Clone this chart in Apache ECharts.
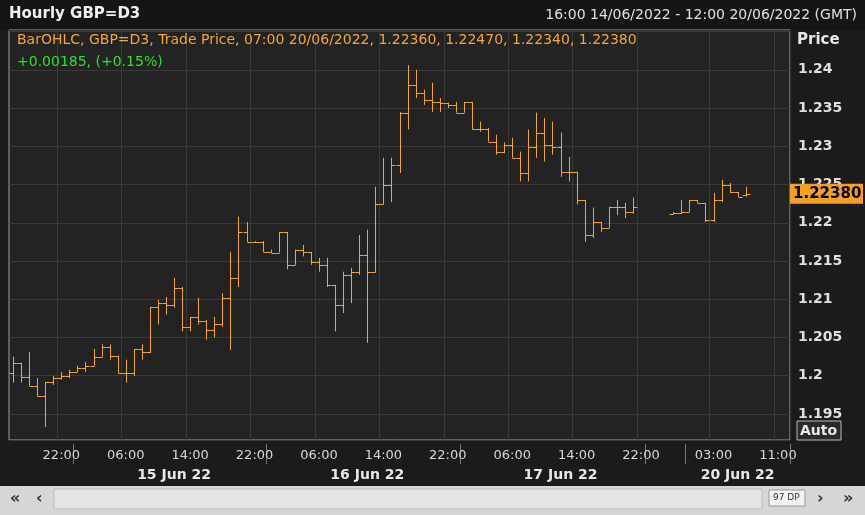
<!DOCTYPE html>
<html><head><meta charset="utf-8">
<script src="https://cdn.jsdelivr.net/npm/echarts@6/dist/echarts.min.js"></script>
<style>html,body{margin:0;padding:0;background:#1b1b1b}#c{width:865px;height:515px}</style>
</head><body><div id="c"></div>
<script>
const opens  = [1.2004,1.2017,1.1999,1.1987,1.1973,1.1992,1.1997,1.2000,1.2005,1.2010,1.2013,1.2025,1.2037,1.2026,1.2004,1.2004,1.2035,1.2031,1.2090,1.2095,1.2093,1.2115,1.2064,1.2077,1.2071,1.2060,1.2067,1.2102,1.2128,1.2188,1.2175,1.2175,1.2162,1.2161,1.2188,1.2145,1.2165,1.2162,1.2149,1.2145,1.2119,1.2093,1.2132,1.2135,1.2158,1.2135,1.2224,1.2250,1.2276,1.2344,1.2380,1.2370,1.2361,1.2358,1.2357,1.2354,1.2344,1.2358,1.2322,1.2322,1.2306,1.2293,1.2302,1.2285,1.2265,1.2299,1.2318,1.2302,1.2299,1.2267,1.2267,1.2230,1.2184,1.2201,1.2193,1.2221,1.2221,1.2214,null,null,null,null,1.2212,1.2213,1.2214,1.2230,1.2226,1.2204,1.2230,1.2250,1.2240,1.2236,null,null,null,null,null];
const closes = [1.2017,1.1999,1.1987,1.1973,1.1992,1.1997,1.2000,1.2005,1.2010,1.2013,1.2025,1.2037,1.2026,1.2004,1.2004,1.2035,1.2031,1.2090,1.2095,1.2093,1.2115,1.2064,1.2077,1.2071,1.2060,1.2067,1.2102,1.2128,1.2188,1.2175,1.2175,1.2162,1.2161,1.2188,1.2145,1.2165,1.2162,1.2149,1.2145,1.2119,1.2093,1.2132,1.2135,1.2158,1.2135,1.2224,1.2250,1.2276,1.2344,1.2380,1.2370,1.2361,1.2358,1.2357,1.2354,1.2344,1.2358,1.2322,1.2322,1.2306,1.2293,1.2302,1.2285,1.2265,1.2299,1.2318,1.2302,1.2299,1.2267,1.2267,1.2230,1.2184,1.2201,1.2193,1.2221,1.2221,1.2214,1.2221,null,null,null,null,1.2213,1.2214,1.2230,1.2226,1.2204,1.2230,1.2250,1.2240,1.2234,1.2238,null,null,null,null,null];
const lows   = [1.1991,1.1991,1.1987,1.1973,1.1933,1.1988,1.1995,1.1997,1.2005,1.2005,1.2013,1.2025,1.2021,1.2003,1.1991,1.2000,1.2021,1.2030,1.2067,1.2080,1.2089,1.2058,1.2058,1.2067,1.2047,1.2050,1.2064,1.2034,1.2116,1.2175,1.2174,1.2162,1.2161,1.2161,1.2139,1.2145,1.2156,1.2145,1.2136,1.2116,1.2058,1.2082,1.2095,1.2132,1.2043,1.2135,1.2224,1.2227,1.2265,1.2322,1.2363,1.2354,1.2345,1.2345,1.2350,1.2344,1.2344,1.2322,1.2319,1.2306,1.2289,1.2291,1.2285,1.2254,1.2254,1.2285,1.2280,1.2289,1.2260,1.2254,1.2224,1.2175,1.2180,1.2188,1.2193,1.2210,1.2206,1.2212,null,null,null,null,1.2211,1.2212,1.2214,1.2226,1.2201,1.2201,1.2227,1.2239,1.2234,1.2234,null,null,null,null,null];
const highs  = [1.2025,1.2017,1.2031,1.1997,1.1992,1.2000,1.2005,1.2008,1.2013,1.2018,1.2035,1.2041,1.2041,1.2026,1.2021,1.2035,1.2041,1.2090,1.2099,1.2103,1.2128,1.2116,1.2077,1.2102,1.2073,1.2077,1.2108,1.2162,1.2208,1.2201,1.2176,1.2176,1.2165,1.2188,1.2188,1.2165,1.2171,1.2162,1.2154,1.2154,1.2119,1.2136,1.2141,1.2184,1.2191,1.2247,1.2285,1.2285,1.2345,1.2406,1.2400,1.2374,1.2383,1.2363,1.2357,1.2358,1.2358,1.2358,1.2332,1.2324,1.2315,1.2305,1.2311,1.2293,1.2322,1.2344,1.2337,1.2332,1.2318,1.2286,1.2267,1.2230,1.2220,1.2201,1.2221,1.2230,1.2226,1.2233,null,null,null,null,1.2214,1.2230,1.2230,1.2230,1.2226,1.2239,1.2256,1.2252,1.2240,1.2247,null,null,null,null,null];

const categories = [];
(function(){
  const pad=n=>(n<10?'0':'')+n;
  let d=14,h=16;
  while(!(d===17&&h===23)){categories.push(pad(d)+'/06 '+pad(h)+':00');h++;if(h===24){h=0;d++;}}
  d=19;h=19;
  while(!(d===20&&h===13)){categories.push(pad(d)+'/06 '+pad(h)+':00');h++;if(h===24){h=0;d++;}}
})();
const timeTickHours = ['22','06','14'];
const timeTickHoursAfterGap = ['03','11'];
const dayLabels = {'15/06 12':'15 Jun 22','16/06 12':'16 Jun 22','17/06 12':'17 Jun 22','20/06 06':'20 Jun 22'};

const ohlc = categories.map((c,i)=>opens[i]==null?null:[i,opens[i],closes[i],lows[i],highs[i]]).filter(v=>v);

const chart = echarts.init(document.getElementById('c'));
const hourOf = c => c.slice(6,8);
const isTimeTick = (i) => (i<79 ? timeTickHours : timeTickHoursAfterGap).includes(hourOf(categories[i]));
const isDayTick = (i) => hourOf(categories[i])==='00' || i===79;
const BAR='#f5a53a';

chart.setOption({
  backgroundColor:'#1b1b1b',
  animation:false,
  grid:{left:9,right:75,top:30,bottom:75,show:true,backgroundColor:'#232323',borderColor:'#a0a0a0',borderWidth:1},
  xAxis:[{
    type:'category',data:categories,boundaryGap:true,
    axisLine:{show:false},
    axisTick:{show:false},
    splitLine:{show:true,interval:(i)=>isTimeTick(i),lineStyle:{color:'#3a3a3a'}},
    axisLabel:{interval:(i)=>isTimeTick(i),formatter:v=>v.slice(6),color:'#d8d8d8',fontFamily:'DejaVu Sans',fontSize:13,margin:9}
  },{
    type:'category',data:categories,position:'bottom',offset:24,boundaryGap:true,
    axisLine:{show:false},
    axisTick:{show:true,interval:(i)=>isDayTick(i),length:-20,lineStyle:{color:'#777'}},
    axisLabel:{interval:(i)=>!!dayLabels[categories[i].slice(0,8)],formatter:v=>dayLabels[v.slice(0,8)]||'',color:'#e8e8e8',fontFamily:'DejaVu Sans',fontWeight:'bold',fontSize:14,margin:4}
  }],
  yAxis:{
    type:'value',position:'right',min:1.1916,max:1.2452,splitNumber:10,
    axisLine:{show:false},axisTick:{show:false},
    splitLine:{lineStyle:{color:'#3a3a3a'}},
    axisLabel:{showMinLabel:false,showMaxLabel:false,formatter:v=>v>1.2425?'':String(+v.toFixed(4)),color:'#e0e0e0',fontFamily:'DejaVu Sans',fontWeight:'bold',fontSize:14,margin:8}
  },
  series:[{
    type:'custom',
    data:ohlc,
    itemStyle:{color:BAR},
    emphasis:{disabled:true},
    encode:{x:0,y:[1,2,3,4]},
    renderItem:function(params,api){
      const i=api.value(0);
      const o=api.coord([i,api.value(1)]);
      const c=api.coord([i,api.value(2)]);
      const l=api.coord([i,api.value(3)]);
      const h=api.coord([i,api.value(4)]);
      const x=Math.round(o[0])+0.5;
      const st=()=>({stroke:BAR,fill:null,lineWidth:1,opacity:1});
      return {type:'group',children:[
        {type:'line',shape:{x1:x,y1:h[1],x2:x,y2:l[1]},style:st()},
        {type:'line',shape:{x1:x-4,y1:Math.round(o[1])+0.5,x2:x,y2:Math.round(o[1])+0.5},style:st()},
        {type:'line',shape:{x1:x,y1:Math.round(c[1])+0.5,x2:x+4,y2:Math.round(c[1])+0.5},style:st()}
      ]};
    }
  }]
});

const lastClose = 1.2238;
const py = chart.convertToPixel({yAxisIndex:0}, lastClose);
chart.setOption({graphic:[
  {type:'rect',shape:{x:0,y:0,width:865,height:30},style:{fill:'#151515'},z:-1},
  {type:'text',left:9,top:7,style:{text:'Hourly GBP=D3',fill:'#f0f0f0',font:'bold 15px "DejaVu Sans"'}},
  {type:'text',right:8,top:8,style:{text:'16:00 14/06/2022 - 12:00 20/06/2022 (GMT)',fill:'#e0e0e0',font:'14px "DejaVu Sans"'}},
  {type:'text',left:17,top:33,style:{text:'BarOHLC, GBP=D3, Trade Price, 07:00 20/06/2022, 1.22360, 1.22470, 1.22340, 1.22380',fill:BAR,font:'14px "DejaVu Sans"'}},
  {type:'text',left:17,top:55,style:{text:'+0.00185, (+0.15%)',fill:'#2ee02e',font:'14px "DejaVu Sans"'}},
  {type:'text',left:797,top:33,style:{text:'Price',fill:'#e8e8e8',font:'bold 15px "DejaVu Sans"'}},
  {type:'rect',shape:{x:790,y:py-10,width:73,height:20},style:{fill:'#f5a020'},z:10},
  {type:'text',x:793,y:py,style:{text:'1.22380',fill:'#000',font:'bold 15px "DejaVu Sans"',verticalAlign:'middle'},z:11},
  {type:'rect',shape:{x:797,y:421,width:44,height:19},style:{fill:'#2a2a2a',stroke:'#bbb',lineWidth:1}},
  {type:'text',x:800,y:431,style:{text:'Auto',fill:'#e8e8e8',font:'bold 14px "DejaVu Sans"',verticalAlign:'middle'}},
  {type:'rect',shape:{x:0,y:486,width:865,height:29},style:{fill:'#d6d6d6'}},
  {type:'rect',shape:{x:54,y:489,width:708,height:20},style:{fill:'#e4e4e4',stroke:'#bdbdbd'}},
  {type:'text',x:10,y:499,style:{text:'«',fill:'#333',font:'bold 16px "DejaVu Sans"',verticalAlign:'middle'}},
  {type:'text',x:36,y:499,style:{text:'‹',fill:'#333',font:'bold 16px "DejaVu Sans"',verticalAlign:'middle'}},
  {type:'rect',shape:{x:769,y:490,width:36,height:16},style:{fill:'#f2f2f2',stroke:'#999'}},
  {type:'text',x:773,y:498,style:{text:'97 DP',fill:'#333',font:'9px "DejaVu Sans"',verticalAlign:'middle'}},
  {type:'text',x:817,y:499,style:{text:'›',fill:'#333',font:'bold 16px "DejaVu Sans"',verticalAlign:'middle'}},
  {type:'text',x:843,y:499,style:{text:'»',fill:'#333',font:'bold 16px "DejaVu Sans"',verticalAlign:'middle'}}
]});
</script></body></html>
